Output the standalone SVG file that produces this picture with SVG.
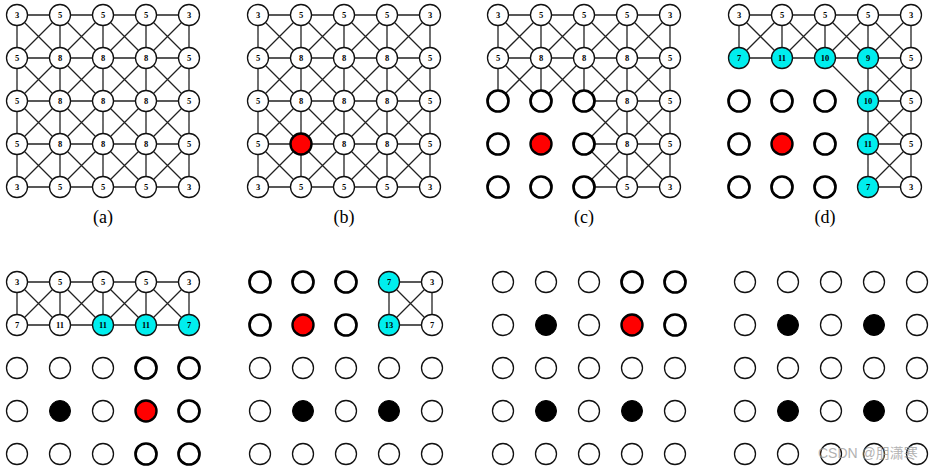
<svg xmlns="http://www.w3.org/2000/svg" width="933" height="471" viewBox="0 0 933 471">
<style>
.e{fill:none;stroke:#222;stroke-width:1.3}
g.n circle{fill:#fff;stroke:#111;stroke-width:1.3}
g.k circle{fill:#fff;stroke:#000;stroke-width:2.7}
g.r circle{fill:#f00;stroke:#000;stroke-width:2.4}
g.c circle{fill:#00eeee;stroke:#111;stroke-width:1.3}
g.b circle{fill:#000;stroke:#000;stroke-width:1}
circle{r:10.5}
text{font-family:"Liberation Serif",serif;font-weight:bold;font-size:8.5px;text-anchor:middle;fill:#000}
text.cap{font-weight:normal;font-size:18px}
text.wm{font-family:"Liberation Sans","Noto Sans CJK SC",sans-serif;font-weight:normal;font-size:14px;text-anchor:start;fill:#999;opacity:0.75}
</style>
<defs>
<path id="king" d="M0 0H172M0 43H172M0 86H172M0 129H172M0 172H172M0 0V172M43 0V172M86 0V172M129 0V172M172 0V172M0 0L172 172M43 0L172 129M86 0L172 86M129 0L172 43M0 43L129 172M0 86L86 172M0 129L43 172M43 0L0 43M86 0L0 86M129 0L0 129M172 0L0 172M172 43L43 172M172 86L86 172M172 129L129 172"/>
</defs>
<g id="connectors">
<use href="#king" class="e" transform="translate(17,15)"/>
<use href="#king" class="e" transform="translate(258,15)"/>
<path class="e" transform="translate(498,15)" d="M0 0H172M0 43H172M86 86H172M86 129H172M86 172H172M0 0V86M43 0V86M86 0V86M129 0V172M172 0V172M0 0L172 172M43 0L172 129M86 0L172 86M129 0L172 43M0 43L43 86M86 129L129 172M43 0L0 43M86 0L0 86M129 0L43 86M172 0L86 86M172 43L86 129M172 86L86 172M172 129L129 172"/>
<path class="e" transform="translate(739,15)" d="M0 0H172M0 43H172M129 86H172M129 129H172M129 172H172M0 0V43M43 0V43M86 0V43M129 0V172M172 0V172M0 0L43 43M129 129L172 172M43 0L172 129M86 0L172 86M129 0L172 43M43 0L0 43M86 0L43 43M129 0L86 43M172 0L129 43M172 43L129 86M172 86L129 129M172 129L129 172"/>
<path class="e" transform="translate(17,282)" d="M0 0H172M0 43H172M0 0V43M43 0V43M86 0V43M129 0V43M172 0V43M0 0L43 43M43 0L86 43M86 0L129 43M129 0L172 43M43 0L0 43M86 0L43 43M129 0L86 43M172 0L129 43"/>
<path class="e" transform="translate(260,282)" d="M129 0H172M129 43H172M129 0V43M172 0V43M129 0L172 43M172 0L129 43"/>
</g>
<!-- panel a -->
<g id="a00" class="n" transform="translate(17,15)"><circle/><text y="3">3</text></g>
<g id="a01" class="n" transform="translate(60,15)"><circle/><text y="3">5</text></g>
<g id="a02" class="n" transform="translate(103,15)"><circle/><text y="3">5</text></g>
<g id="a03" class="n" transform="translate(146,15)"><circle/><text y="3">5</text></g>
<g id="a04" class="n" transform="translate(189,15)"><circle/><text y="3">3</text></g>
<g id="a10" class="n" transform="translate(17,58)"><circle/><text y="3">5</text></g>
<g id="a11" class="n" transform="translate(60,58)"><circle/><text y="3">8</text></g>
<g id="a12" class="n" transform="translate(103,58)"><circle/><text y="3">8</text></g>
<g id="a13" class="n" transform="translate(146,58)"><circle/><text y="3">8</text></g>
<g id="a14" class="n" transform="translate(189,58)"><circle/><text y="3">5</text></g>
<g id="a20" class="n" transform="translate(17,101)"><circle/><text y="3">5</text></g>
<g id="a21" class="n" transform="translate(60,101)"><circle/><text y="3">8</text></g>
<g id="a22" class="n" transform="translate(103,101)"><circle/><text y="3">8</text></g>
<g id="a23" class="n" transform="translate(146,101)"><circle/><text y="3">8</text></g>
<g id="a24" class="n" transform="translate(189,101)"><circle/><text y="3">5</text></g>
<g id="a30" class="n" transform="translate(17,144)"><circle/><text y="3">5</text></g>
<g id="a31" class="n" transform="translate(60,144)"><circle/><text y="3">8</text></g>
<g id="a32" class="n" transform="translate(103,144)"><circle/><text y="3">8</text></g>
<g id="a33" class="n" transform="translate(146,144)"><circle/><text y="3">8</text></g>
<g id="a34" class="n" transform="translate(189,144)"><circle/><text y="3">5</text></g>
<g id="a40" class="n" transform="translate(17,187)"><circle/><text y="3">3</text></g>
<g id="a41" class="n" transform="translate(60,187)"><circle/><text y="3">5</text></g>
<g id="a42" class="n" transform="translate(103,187)"><circle/><text y="3">5</text></g>
<g id="a43" class="n" transform="translate(146,187)"><circle/><text y="3">5</text></g>
<g id="a44" class="n" transform="translate(189,187)"><circle/><text y="3">3</text></g>
<text class="cap" x="103" y="223">(a)</text>
<!-- panel b -->
<g id="b00" class="n" transform="translate(258,15)"><circle/><text y="3">3</text></g>
<g id="b01" class="n" transform="translate(301,15)"><circle/><text y="3">5</text></g>
<g id="b02" class="n" transform="translate(344,15)"><circle/><text y="3">5</text></g>
<g id="b03" class="n" transform="translate(387,15)"><circle/><text y="3">5</text></g>
<g id="b04" class="n" transform="translate(430,15)"><circle/><text y="3">3</text></g>
<g id="b10" class="n" transform="translate(258,58)"><circle/><text y="3">5</text></g>
<g id="b11" class="n" transform="translate(301,58)"><circle/><text y="3">8</text></g>
<g id="b12" class="n" transform="translate(344,58)"><circle/><text y="3">8</text></g>
<g id="b13" class="n" transform="translate(387,58)"><circle/><text y="3">8</text></g>
<g id="b14" class="n" transform="translate(430,58)"><circle/><text y="3">5</text></g>
<g id="b20" class="n" transform="translate(258,101)"><circle/><text y="3">5</text></g>
<g id="b21" class="n" transform="translate(301,101)"><circle/><text y="3">8</text></g>
<g id="b22" class="n" transform="translate(344,101)"><circle/><text y="3">8</text></g>
<g id="b23" class="n" transform="translate(387,101)"><circle/><text y="3">8</text></g>
<g id="b24" class="n" transform="translate(430,101)"><circle/><text y="3">5</text></g>
<g id="b30" class="n" transform="translate(258,144)"><circle/><text y="3">5</text></g>
<g id="b31" class="r" transform="translate(301,144)"><circle/></g>
<g id="b32" class="n" transform="translate(344,144)"><circle/><text y="3">8</text></g>
<g id="b33" class="n" transform="translate(387,144)"><circle/><text y="3">8</text></g>
<g id="b34" class="n" transform="translate(430,144)"><circle/><text y="3">5</text></g>
<g id="b40" class="n" transform="translate(258,187)"><circle/><text y="3">3</text></g>
<g id="b41" class="n" transform="translate(301,187)"><circle/><text y="3">5</text></g>
<g id="b42" class="n" transform="translate(344,187)"><circle/><text y="3">5</text></g>
<g id="b43" class="n" transform="translate(387,187)"><circle/><text y="3">5</text></g>
<g id="b44" class="n" transform="translate(430,187)"><circle/><text y="3">3</text></g>
<text class="cap" x="344" y="223">(b)</text>
<!-- panel c -->
<g id="c00" class="n" transform="translate(498,15)"><circle/><text y="3">3</text></g>
<g id="c01" class="n" transform="translate(541,15)"><circle/><text y="3">5</text></g>
<g id="c02" class="n" transform="translate(584,15)"><circle/><text y="3">5</text></g>
<g id="c03" class="n" transform="translate(627,15)"><circle/><text y="3">5</text></g>
<g id="c04" class="n" transform="translate(670,15)"><circle/><text y="3">3</text></g>
<g id="c10" class="n" transform="translate(498,58)"><circle/><text y="3">5</text></g>
<g id="c11" class="n" transform="translate(541,58)"><circle/><text y="3">8</text></g>
<g id="c12" class="n" transform="translate(584,58)"><circle/><text y="3">8</text></g>
<g id="c13" class="n" transform="translate(627,58)"><circle/><text y="3">8</text></g>
<g id="c14" class="n" transform="translate(670,58)"><circle/><text y="3">5</text></g>
<g id="c20" class="k" transform="translate(498,101)"><circle/></g>
<g id="c21" class="k" transform="translate(541,101)"><circle/></g>
<g id="c22" class="k" transform="translate(584,101)"><circle/></g>
<g id="c23" class="n" transform="translate(627,101)"><circle/><text y="3">8</text></g>
<g id="c24" class="n" transform="translate(670,101)"><circle/><text y="3">5</text></g>
<g id="c30" class="k" transform="translate(498,144)"><circle/></g>
<g id="c31" class="r" transform="translate(541,144)"><circle/></g>
<g id="c32" class="k" transform="translate(584,144)"><circle/></g>
<g id="c33" class="n" transform="translate(627,144)"><circle/><text y="3">8</text></g>
<g id="c34" class="n" transform="translate(670,144)"><circle/><text y="3">5</text></g>
<g id="c40" class="k" transform="translate(498,187)"><circle/></g>
<g id="c41" class="k" transform="translate(541,187)"><circle/></g>
<g id="c42" class="k" transform="translate(584,187)"><circle/></g>
<g id="c43" class="n" transform="translate(627,187)"><circle/><text y="3">5</text></g>
<g id="c44" class="n" transform="translate(670,187)"><circle/><text y="3">3</text></g>
<text class="cap" x="584" y="223">(c)</text>
<!-- panel d -->
<g id="d00" class="n" transform="translate(739,15)"><circle/><text y="3">3</text></g>
<g id="d01" class="n" transform="translate(782,15)"><circle/><text y="3">5</text></g>
<g id="d02" class="n" transform="translate(825,15)"><circle/><text y="3">5</text></g>
<g id="d03" class="n" transform="translate(868,15)"><circle/><text y="3">5</text></g>
<g id="d04" class="n" transform="translate(911,15)"><circle/><text y="3">3</text></g>
<g id="d10" class="c" transform="translate(739,58)"><circle/><text y="3">7</text></g>
<g id="d11" class="c" transform="translate(782,58)"><circle/><text y="3">11</text></g>
<g id="d12" class="c" transform="translate(825,58)"><circle/><text y="3">10</text></g>
<g id="d13" class="c" transform="translate(868,58)"><circle/><text y="3">9</text></g>
<g id="d14" class="n" transform="translate(911,58)"><circle/><text y="3">5</text></g>
<g id="d20" class="k" transform="translate(739,101)"><circle/></g>
<g id="d21" class="k" transform="translate(782,101)"><circle/></g>
<g id="d22" class="k" transform="translate(825,101)"><circle/></g>
<g id="d23" class="c" transform="translate(868,101)"><circle/><text y="3">10</text></g>
<g id="d24" class="n" transform="translate(911,101)"><circle/><text y="3">5</text></g>
<g id="d30" class="k" transform="translate(739,144)"><circle/></g>
<g id="d31" class="r" transform="translate(782,144)"><circle/></g>
<g id="d32" class="k" transform="translate(825,144)"><circle/></g>
<g id="d33" class="c" transform="translate(868,144)"><circle/><text y="3">11</text></g>
<g id="d34" class="n" transform="translate(911,144)"><circle/><text y="3">5</text></g>
<g id="d40" class="k" transform="translate(739,187)"><circle/></g>
<g id="d41" class="k" transform="translate(782,187)"><circle/></g>
<g id="d42" class="k" transform="translate(825,187)"><circle/></g>
<g id="d43" class="c" transform="translate(868,187)"><circle/><text y="3">7</text></g>
<g id="d44" class="n" transform="translate(911,187)"><circle/><text y="3">3</text></g>
<text class="cap" x="825" y="223">(d)</text>
<!-- panel e -->
<g id="e00" class="n" transform="translate(17,282)"><circle/><text y="3">3</text></g>
<g id="e01" class="n" transform="translate(60,282)"><circle/><text y="3">5</text></g>
<g id="e02" class="n" transform="translate(103,282)"><circle/><text y="3">5</text></g>
<g id="e03" class="n" transform="translate(146,282)"><circle/><text y="3">5</text></g>
<g id="e04" class="n" transform="translate(189,282)"><circle/><text y="3">3</text></g>
<g id="e10" class="n" transform="translate(17,325)"><circle/><text y="3">7</text></g>
<g id="e11" class="n" transform="translate(60,325)"><circle/><text y="3">11</text></g>
<g id="e12" class="c" transform="translate(103,325)"><circle/><text y="3">11</text></g>
<g id="e13" class="c" transform="translate(146,325)"><circle/><text y="3">11</text></g>
<g id="e14" class="c" transform="translate(189,325)"><circle/><text y="3">7</text></g>
<g id="e20" class="n" transform="translate(17,368)"><circle/></g>
<g id="e21" class="n" transform="translate(60,368)"><circle/></g>
<g id="e22" class="n" transform="translate(103,368)"><circle/></g>
<g id="e23" class="k" transform="translate(146,368)"><circle/></g>
<g id="e24" class="k" transform="translate(189,368)"><circle/></g>
<g id="e30" class="n" transform="translate(17,411)"><circle/></g>
<g id="e31" class="b" transform="translate(60,411)"><circle/></g>
<g id="e32" class="n" transform="translate(103,411)"><circle/></g>
<g id="e33" class="r" transform="translate(146,411)"><circle/></g>
<g id="e34" class="k" transform="translate(189,411)"><circle/></g>
<g id="e40" class="n" transform="translate(17,454)"><circle/></g>
<g id="e41" class="n" transform="translate(60,454)"><circle/></g>
<g id="e42" class="n" transform="translate(103,454)"><circle/></g>
<g id="e43" class="k" transform="translate(146,454)"><circle/></g>
<g id="e44" class="k" transform="translate(189,454)"><circle/></g>
<!-- panel f -->
<g id="f00" class="k" transform="translate(260,282)"><circle/></g>
<g id="f01" class="k" transform="translate(303,282)"><circle/></g>
<g id="f02" class="k" transform="translate(346,282)"><circle/></g>
<g id="f03" class="c" transform="translate(389,282)"><circle/><text y="3">7</text></g>
<g id="f04" class="n" transform="translate(432,282)"><circle/><text y="3">3</text></g>
<g id="f10" class="k" transform="translate(260,325)"><circle/></g>
<g id="f11" class="r" transform="translate(303,325)"><circle/></g>
<g id="f12" class="k" transform="translate(346,325)"><circle/></g>
<g id="f13" class="c" transform="translate(389,325)"><circle/><text y="3">13</text></g>
<g id="f14" class="n" transform="translate(432,325)"><circle/><text y="3">7</text></g>
<g id="f20" class="n" transform="translate(260,368)"><circle/></g>
<g id="f21" class="n" transform="translate(303,368)"><circle/></g>
<g id="f22" class="n" transform="translate(346,368)"><circle/></g>
<g id="f23" class="n" transform="translate(389,368)"><circle/></g>
<g id="f24" class="n" transform="translate(432,368)"><circle/></g>
<g id="f30" class="n" transform="translate(260,411)"><circle/></g>
<g id="f31" class="b" transform="translate(303,411)"><circle/></g>
<g id="f32" class="n" transform="translate(346,411)"><circle/></g>
<g id="f33" class="b" transform="translate(389,411)"><circle/></g>
<g id="f34" class="n" transform="translate(432,411)"><circle/></g>
<g id="f40" class="n" transform="translate(260,454)"><circle/></g>
<g id="f41" class="n" transform="translate(303,454)"><circle/></g>
<g id="f42" class="n" transform="translate(346,454)"><circle/></g>
<g id="f43" class="n" transform="translate(389,454)"><circle/></g>
<g id="f44" class="n" transform="translate(432,454)"><circle/></g>
<!-- panel g -->
<g id="g00" class="n" transform="translate(503,282)"><circle/></g>
<g id="g01" class="n" transform="translate(546,282)"><circle/></g>
<g id="g02" class="n" transform="translate(589,282)"><circle/></g>
<g id="g03" class="k" transform="translate(632,282)"><circle/></g>
<g id="g04" class="k" transform="translate(675,282)"><circle/></g>
<g id="g10" class="n" transform="translate(503,325)"><circle/></g>
<g id="g11" class="b" transform="translate(546,325)"><circle/></g>
<g id="g12" class="n" transform="translate(589,325)"><circle/></g>
<g id="g13" class="r" transform="translate(632,325)"><circle/></g>
<g id="g14" class="k" transform="translate(675,325)"><circle/></g>
<g id="g20" class="n" transform="translate(503,368)"><circle/></g>
<g id="g21" class="n" transform="translate(546,368)"><circle/></g>
<g id="g22" class="n" transform="translate(589,368)"><circle/></g>
<g id="g23" class="n" transform="translate(632,368)"><circle/></g>
<g id="g24" class="n" transform="translate(675,368)"><circle/></g>
<g id="g30" class="n" transform="translate(503,411)"><circle/></g>
<g id="g31" class="b" transform="translate(546,411)"><circle/></g>
<g id="g32" class="n" transform="translate(589,411)"><circle/></g>
<g id="g33" class="b" transform="translate(632,411)"><circle/></g>
<g id="g34" class="n" transform="translate(675,411)"><circle/></g>
<g id="g40" class="n" transform="translate(503,454)"><circle/></g>
<g id="g41" class="n" transform="translate(546,454)"><circle/></g>
<g id="g42" class="n" transform="translate(589,454)"><circle/></g>
<g id="g43" class="n" transform="translate(632,454)"><circle/></g>
<g id="g44" class="n" transform="translate(675,454)"><circle/></g>
<!-- panel h -->
<g id="h00" class="n" transform="translate(745,282)"><circle/></g>
<g id="h01" class="n" transform="translate(788,282)"><circle/></g>
<g id="h02" class="n" transform="translate(831,282)"><circle/></g>
<g id="h03" class="n" transform="translate(874,282)"><circle/></g>
<g id="h04" class="n" transform="translate(917,282)"><circle/></g>
<g id="h10" class="n" transform="translate(745,325)"><circle/></g>
<g id="h11" class="b" transform="translate(788,325)"><circle/></g>
<g id="h12" class="n" transform="translate(831,325)"><circle/></g>
<g id="h13" class="b" transform="translate(874,325)"><circle/></g>
<g id="h14" class="n" transform="translate(917,325)"><circle/></g>
<g id="h20" class="n" transform="translate(745,368)"><circle/></g>
<g id="h21" class="n" transform="translate(788,368)"><circle/></g>
<g id="h22" class="n" transform="translate(831,368)"><circle/></g>
<g id="h23" class="n" transform="translate(874,368)"><circle/></g>
<g id="h24" class="n" transform="translate(917,368)"><circle/></g>
<g id="h30" class="n" transform="translate(745,411)"><circle/></g>
<g id="h31" class="b" transform="translate(788,411)"><circle/></g>
<g id="h32" class="n" transform="translate(831,411)"><circle/></g>
<g id="h33" class="b" transform="translate(874,411)"><circle/></g>
<g id="h34" class="n" transform="translate(917,411)"><circle/></g>
<g id="h40" class="n" transform="translate(745,454)"><circle/></g>
<g id="h41" class="n" transform="translate(788,454)"><circle/></g>
<g id="h42" class="n" transform="translate(831,454)"><circle/></g>
<g id="h43" class="n" transform="translate(874,454)"><circle/></g>
<g id="h44" class="n" transform="translate(917,454)"><circle/></g>
<text class="wm" x="818" y="458">CSDN @朋潇寒</text>
</svg>
